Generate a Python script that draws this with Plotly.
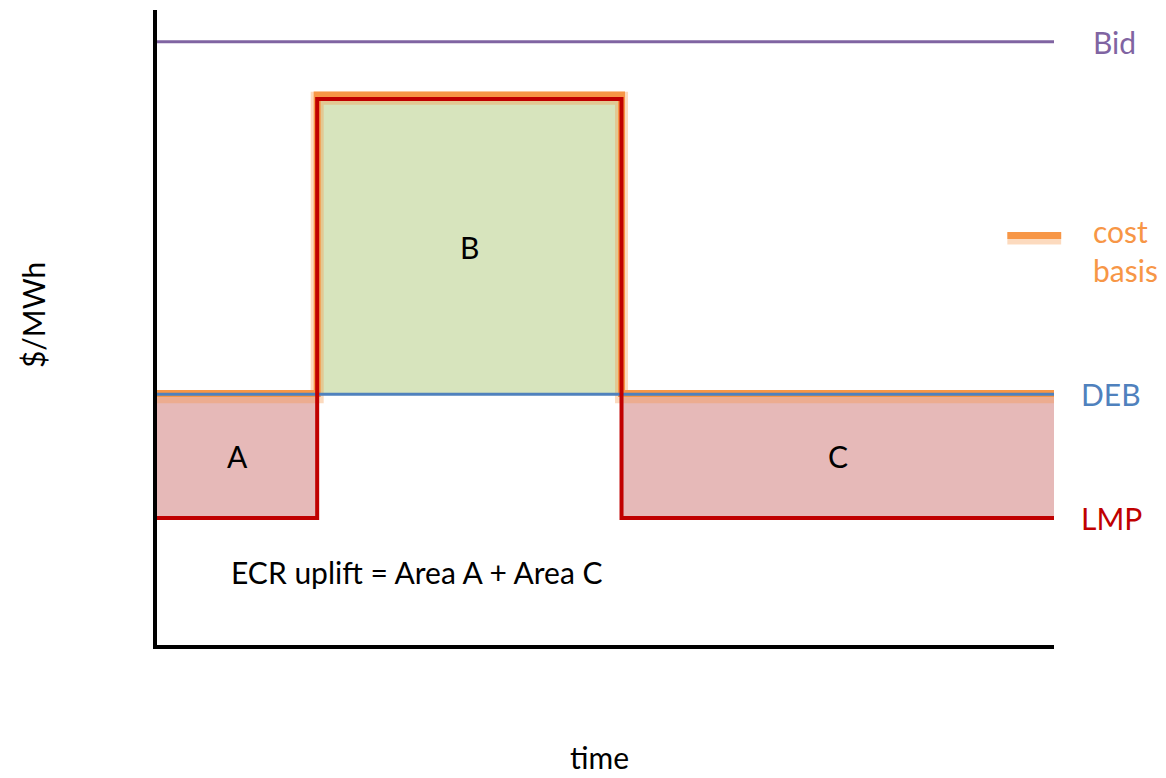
import plotly.graph_objects as go

# step boundaries (hours) and level per segment ($/MWh)
time_breaks = [0, 5, 14.5, 28]
lmp_levels = [20, 86, 20]
cost_levels = [39.6, 86.6, 39.6]
deb_level = 39.5
bid_level = 95
area_labels = ['A', 'B', 'C']

font = 'Lato'
fs = 30
purple = '#8064A2'
orange = '#F79646'
red = '#C00000'
blue = '#4F81BD'
pink = '#E6B9B8'
green = '#D7E4BD'

fig = go.Figure()

# shaded areas between DEB and LMP / cost basis
for i in range(len(lmp_levels)):
    x0, x1 = time_breaks[i], time_breaks[i + 1]
    top = max(lmp_levels[i], deb_level)
    bot = min(lmp_levels[i], deb_level)
    col = green if lmp_levels[i] > deb_level else pink
    fig.add_trace(go.Scatter(x=[x0, x1], y=[bot, bot], mode='lines',
                             line=dict(width=0), hoverinfo='skip', showlegend=False))
    fig.add_trace(go.Scatter(x=[x0, x1], y=[top, top], mode='lines', fill='tonexty',
                             fillcolor=col, line=dict(width=0), hoverinfo='skip',
                             showlegend=False))

step_x = time_breaks
cost_y = cost_levels + [cost_levels[-1]]
lmp_y = lmp_levels + [lmp_levels[-1]]

# cost basis with soft glow (shadow sits slightly below)
glow_y = [v - 0.5 for v in cost_y]
fig.add_trace(go.Scatter(x=step_x, y=glow_y, mode='lines', line_shape='hv',
                         line=dict(color='rgba(247,150,70,0.35)', width=13),
                         hoverinfo='skip', showlegend=False))
fig.add_trace(go.Scatter(x=step_x, y=cost_y, mode='lines', line_shape='hv',
                         line=dict(color=orange, width=7), showlegend=False))

# DEB
fig.add_trace(go.Scatter(x=[time_breaks[0], time_breaks[-1]], y=[deb_level] * 2,
                         mode='lines', line=dict(color=blue, width=3), showlegend=False))
# LMP
fig.add_trace(go.Scatter(x=step_x, y=lmp_y, mode='lines', line_shape='hv',
                         line=dict(color=red, width=4), showlegend=False))
# Bid
fig.add_trace(go.Scatter(x=[time_breaks[0], time_breaks[-1]], y=[bid_level] * 2,
                         mode='lines', line=dict(color=purple, width=3), showlegend=False))

# area letters
for i, lab in enumerate(area_labels):
    xm = (time_breaks[i] + time_breaks[i + 1]) / 2
    ym = (lmp_levels[i] + deb_level) / 2
    fig.add_annotation(x=xm, y=ym, text=lab, showarrow=False, yanchor='middle',
                       font=dict(family=font, size=fs, color='black'))

fig.add_annotation(x=2.25, y=11.5, text='ECR uplift = Area A + Area C', showarrow=False,
                   xanchor='left', yanchor='middle',
                   font=dict(family=font, size=fs, color='black'))

# right-hand labels
fig.add_annotation(xref='paper', x=1.041, y=bid_level, text='Bid', showarrow=False,
                   xanchor='left', yanchor='middle',
                   font=dict(family=font, size=fs, color=purple))
fig.add_annotation(xref='paper', x=1.028, y=deb_level, text='DEB', showarrow=False,
                   xanchor='left', yanchor='middle',
                   font=dict(family=font, size=fs, color=blue))
fig.add_annotation(xref='paper', x=1.028, y=lmp_levels[-1], text='LMP', showarrow=False,
                   xanchor='left', yanchor='middle',
                   font=dict(family=font, size=fs, color=red))
fig.add_annotation(xref='paper', x=1.041, y=62.2, text='cost<br>basis', showarrow=False,
                   xanchor='left', yanchor='middle', align='left',
                   font=dict(family=font, size=fs, color=orange))
fig.add_shape(type='line', xref='paper', x0=0.948, x1=1.008, y0=64.0, y1=64.0,
              line=dict(color='rgba(247,150,70,0.35)', width=12))
fig.add_shape(type='line', xref='paper', x0=0.948, x1=1.008, y0=64.5, y1=64.5,
              line=dict(color=orange, width=7))

# axis titles
fig.add_annotation(xref='paper', yref='paper', x=-0.139, y=0.52, text='$/MWh',
                   showarrow=False, textangle=-90, xanchor='center', yanchor='middle',
                   font=dict(family=font, size=fs, color='black'))
fig.add_annotation(xref='paper', yref='paper', x=0.493, y=-0.176, text='time',
                   showarrow=False, xanchor='center', yanchor='middle',
                   font=dict(family=font, size=fs, color='black'))

fig.update_xaxes(range=[time_breaks[0], time_breaks[-1]], showgrid=False, zeroline=False,
                 showticklabels=False, ticks='', showline=True, linecolor='black',
                 linewidth=4)
fig.update_yaxes(range=[0, 100], showgrid=False, zeroline=False, showticklabels=False,
                 ticks='', showline=True, linecolor='black', linewidth=4)

fig.update_layout(width=1166, height=778, plot_bgcolor='white', paper_bgcolor='white',
                  margin=dict(l=149, r=120, t=2, b=141))

fig.write_html("out.html")
